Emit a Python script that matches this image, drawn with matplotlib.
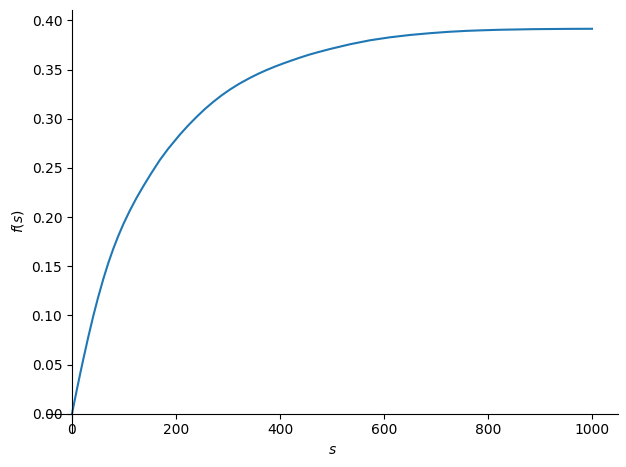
import matplotlib
matplotlib.use('Agg')
import matplotlib.pyplot as plt

# values
s_vals = [0, 9, 15.4, 21.8, 31.4, 41, 50, 60.3, 70, 79.5, 89, 98.7, 111.5, 124, 137, 152,
          169, 185, 208, 224, 240, 256, 272, 288, 304, 322, 342, 358, 374, 390, 406, 422, 438,
          455, 471, 496, 535, 573, 611, 650, 688, 724, 759, 791, 823, 855, 887, 950, 1000]
f_vals = [0.0, 0.0236, 0.0399, 0.0556, 0.0783, 0.0996, 0.1179, 0.1372, 0.1536, 0.1679,
          0.1808, 0.1928, 0.2069, 0.2194, 0.2313, 0.2442, 0.2581, 0.2695, 0.2842, 0.2935,
          0.3021, 0.3101, 0.3173, 0.3239, 0.3298, 0.3357, 0.3415, 0.3457, 0.3495, 0.3530,
          0.3562, 0.3592, 0.3621, 0.3650, 0.3674, 0.3709, 0.3758, 0.3798, 0.3828, 0.3852,
          0.3870, 0.3884, 0.3894, 0.3900, 0.3905, 0.3908, 0.3911, 0.3914, 0.3915]

x_ticks = [0, 200, 400, 600, 800, 1000]
y_ticks = [0.0, 0.05, 0.10, 0.15, 0.20, 0.25, 0.30, 0.35, 0.40]

fig = plt.figure(figsize=(6.26, 4.67), dpi=100)
ax = fig.add_axes([46/626, 34/467, 572/626, 423/467])

ax.plot(s_vals, f_vals, color='#1f77b4')

# axes through the origin, like sympy's plot
ax.spines['left'].set_position('zero')
ax.spines['bottom'].set_position('zero')
ax.spines['right'].set_visible(False)
ax.spines['top'].set_visible(False)
ax.xaxis.set_ticks_position('bottom')
ax.yaxis.set_ticks_position('left')

ax.set_xticks(x_ticks)
ax.set_yticks(y_ticks)
ax.set_xlim(-50, 1050)
ax.set_ylim(-0.0196, 0.4106)

ax.set_xlabel('$s$')
ax.set_ylabel('$f(s)$')

plt.savefig('out.png')
